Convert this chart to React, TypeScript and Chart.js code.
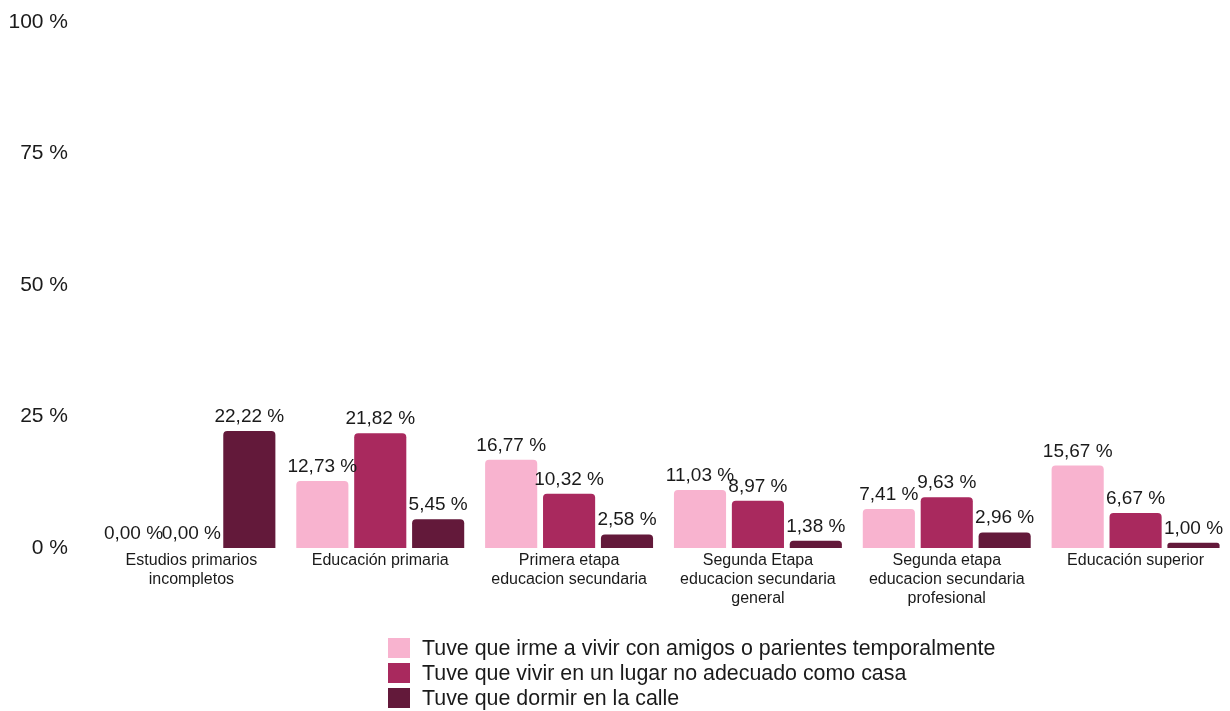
import React, { useEffect, useRef } from "react";
import { Chart, registerables } from "chart.js";

Chart.register(...registerables);

const categories: string[][] = [
  ["Estudios primarios", "incompletos"],
  ["Educación primaria"],
  ["Primera etapa", "educacion secundaria"],
  ["Segunda Etapa", "educacion secundaria", "general"],
  ["Segunda etapa", "educacion secundaria", "profesional"],
  ["Educación superior"],
];

const seriesLabels = [
  "Tuve que irme a vivir con amigos o parientes temporalmente",
  "Tuve que vivir en un lugar no adecuado como casa",
  "Tuve que dormir en la calle",
];

const amigos = [0.0, 12.73, 16.77, 11.03, 7.41, 15.67];
const lugar = [0.0, 21.82, 10.32, 8.97, 9.63, 6.67];
const calle = [22.22, 5.45, 2.58, 1.38, 2.96, 1.0];

const colors = ["#F8B3CF", "#A9295E", "#63193A"];

const yTicks = [0, 25, 50, 75, 100];

const FONT = "'Liberation Sans', Arial, Helvetica, sans-serif";

const valueLabels = {
  id: "valueLabels",
  afterDatasetsDraw(chart: any) {
    const ctx = chart.ctx;
    ctx.save();
    ctx.font = `19px ${FONT}`;
    ctx.fillStyle = "#1a1a1a";
    ctx.textAlign = "center";
    ctx.textBaseline = "alphabetic";
    chart.data.datasets.forEach((ds: any, i: number) => {
      const meta = chart.getDatasetMeta(i);
      meta.data.forEach((bar: any, j: number) => {
        const v = ds.data[j] as number;
        const txt = v.toFixed(2).replace(".", ",") + " %";
        ctx.fillText(txt, bar.x, bar.y - 9);
      });
    });
    ctx.restore();
  },
};

const listLegend = {
  id: "listLegend",
  afterDraw(chart: any) {
    const ctx = chart.ctx;
    ctx.save();
    ctx.font = `21.4px ${FONT}`;
    ctx.textAlign = "left";
    ctx.textBaseline = "middle";
    const h = chart.height;
    const rows = [h - 63, h - 38, h - 13];
    chart.data.datasets.forEach((ds: any, i: number) => {
      const cy = rows[i];
      ctx.fillStyle = ds.backgroundColor;
      ctx.fillRect(388, cy - 10, 22, 20);
      ctx.fillStyle = "#1a1a1a";
      ctx.fillText(ds.label, 422, cy + 1);
    });
    ctx.restore();
  },
};

export default function App() {
  const ref = useRef<HTMLCanvasElement | null>(null);

  useEffect(() => {
    if (!ref.current) return;
    const datasets = [amigos, lugar, calle].map((d, i) => ({
      label: seriesLabels[i],
      data: d,
      backgroundColor: colors[i],
      borderRadius: { topLeft: 4, topRight: 4, bottomLeft: 0, bottomRight: 0 },
      borderSkipped: "bottom" as const,
      categoryPercentage: 0.92,
      barPercentage: 0.9,
    }));
    const chart = new Chart(ref.current, {
      type: "bar",
      data: { labels: categories, datasets },
      options: {
        responsive: false,
        animation: false,
        layout: { padding: { top: 22, left: 0, right: 0, bottom: 83 } },
        plugins: {
          legend: { display: false },
          tooltip: { enabled: false },
          title: { display: false },
        },
        scales: {
          x: {
            grid: { display: false, drawTicks: false },
            border: { display: false },
            ticks: {
              font: { family: FONT, size: 16 },
              color: "#1a1a1a",
              padding: 3,
              maxRotation: 0,
              autoSkip: false,
            },
            afterFit: (s: any) => {
              s.height = 80;
            },
          },
          y: {
            min: 0,
            max: 100,
            grid: { display: false, drawTicks: false },
            border: { display: false },
            afterBuildTicks: (s: any) => {
              s.ticks = yTicks.map((v) => ({ value: v }));
            },
            ticks: {
              font: { family: FONT, size: 21 },
              color: "#1a1a1a",
              padding: 29,
              callback: (v: any) => `${v} %`,
            },
            afterFit: (s: any) => {
              s.width = 97;
              s.paddingTop = 8;
              s.paddingBottom = 8;
            },
          },
        },
      },
      plugins: [valueLabels, listLegend],
    });
    return () => chart.destroy();
  }, []);

  return (
    <div style={{ position: "absolute", left: 0, top: 0, width: 1230, height: 711, background: "#fff" }}>
      <canvas ref={ref} width={1230} height={711} />
    </div>
  );
}
